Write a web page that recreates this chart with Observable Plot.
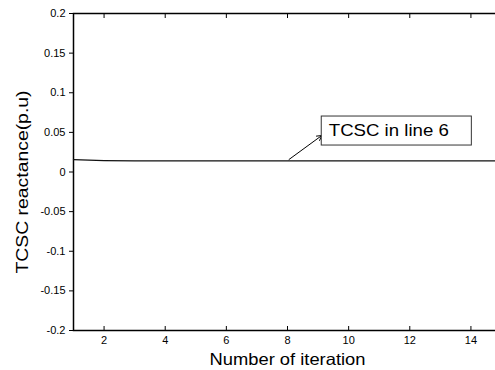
<!DOCTYPE html>
<html>
<head>
<meta charset="utf-8">
<script src="https://cdn.jsdelivr.net/npm/d3@7"></script>
<script src="https://cdn.jsdelivr.net/npm/@observablehq/plot@0.6"></script>
<style>
  html, body { margin: 0; padding: 0; background: #fff; overflow: hidden; }
  #chart { width: 495px; height: 370px; overflow: hidden; }
  #chart svg { max-width: none !important; font-family: "Liberation Sans", Arial, sans-serif; }
</style>
</head>
<body>
<div id="chart"></div>
<script>
const iterations = [1, 2, 3, 4, 5, 6, 7, 8, 9, 10, 11, 12, 13, 14, 15];
const reactance = [0.0155, 0.0144, 0.0141, 0.0140, 0.0140, 0.0140, 0.0140, 0.0140, 0.0140, 0.0140, 0.0140, 0.0140, 0.0140, 0.0140, 0.0140];
const xTicks = [2, 4, 6, 8, 10, 12, 14];
const yTicks = [-0.2, -0.15, -0.1, -0.05, 0, 0.05, 0.1, 0.15, 0.2];
const yTickLabels = ["-0.2", "-0.15", "-0.1", "-0.05", "0", "0.05", "0.1", "0.15", "0.2"];
const xLabel = "Number of iteration";
const yLabel = "TCSC reactance(p.u)";
const annotationText = "TCSC in line 6";
const arrowFrom = [8.05, 0.0158];
const arrowTo = [9.12, 0.046];
const boxX = [9.12, 14.03];
const boxY = [0.0334, 0.0700];
const textPos = [9.35, 0.0517];

const series = iterations.map((it, i) => ({it, v: reactance[i]}));

const plot = Plot.plot({
  width: 501,
  height: 370,
  marginLeft: 73,
  marginRight: 0,
  marginTop: 13,
  marginBottom: 40,
  style: {fontFamily: '"Liberation Sans", Arial, sans-serif', fontSize: "11px", color: "#000", background: "#fff"},
  x: {domain: [1, 15]},
  y: {domain: [-0.2, 0.2]},
  marks: [
    Plot.frame({stroke: "#000", strokeWidth: 1.5}),
    Plot.axisX(xTicks, {anchor: "bottom", tickSize: -4, tickPadding: 10, label: null, tickFormat: d => String(d), fontSize: 11}),
    Plot.axisX(xTicks, {anchor: "top", tickSize: -4, label: null, tickFormat: () => "", fontSize: 11}),
    Plot.axisY(yTicks, {anchor: "left", tickSize: 4, tickPadding: 4, label: null, tickFormat: d => yTickLabels[yTicks.indexOf(d)], fontSize: 11}),
    Plot.line(series, {x: "it", y: "v", stroke: "#111", strokeWidth: 1.3}),
    Plot.arrow([0], {x1: () => arrowFrom[0], y1: () => arrowFrom[1], x2: () => arrowTo[0], y2: () => arrowTo[1], stroke: "#000", strokeWidth: 1, headLength: 8}),
    Plot.rect([0], {x1: () => boxX[0], x2: () => boxX[1], y1: () => boxY[0], y2: () => boxY[1], fill: "#fff", stroke: "#333", strokeWidth: 1}),
    Plot.text([annotationText], {x: () => textPos[0], y: () => textPos[1], text: d => d, textAnchor: "start", lineAnchor: "middle", fontSize: 16.5, fill: "#000"}),
    Plot.text([xLabel], {frameAnchor: "bottom", text: d => d, dy: 29, textAnchor: "middle", lineAnchor: "middle", fontSize: 16.5, fill: "#000"}),
    Plot.text([yLabel], {frameAnchor: "left", text: d => d, dx: -51, dy: 10, rotate: -90, textAnchor: "middle", lineAnchor: "middle", fontSize: 16.5, fill: "#000"})
  ]
});
// stretch the large texts horizontally like the reference rendering
const lengths = new Map([[annotationText, 120], [xLabel, 156], [yLabel, 183]]);
d3.select(plot).selectAll("text").each(function() {
  const t = this.textContent;
  if (lengths.has(t)) {
    this.setAttribute("textLength", lengths.get(t));
    this.setAttribute("lengthAdjust", "spacingAndGlyphs");
  }
});
document.getElementById("chart").appendChild(plot);
</script>
</body>
</html>
